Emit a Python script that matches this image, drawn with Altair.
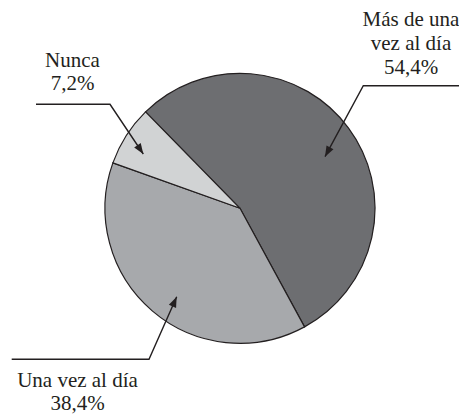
import math
import altair as alt
import pandas as pd

# Slice data
categories = ["Más de una vez al día", "Una vez al día", "Nunca"]
percents = [54.4, 38.4, 7.2]
colors = ["#6d6e71", "#a7a9ac", "#d1d3d4"]

# Label texts (one row per text line), chart units
label_lines = ["Más de una", "vez al día", "54,4%", "Nunca", "7,2%", "Una vez al día", "38,4%"]
label_x = [403, 403, 403, 64.5, 64.5, 69.5, 69.5]
label_y = [18, 41.5, 66, 58.7, 82, 378.7, 402]

# Leader lines: start, bend, tip (chart units)
leader_ids = ["mas", "nunca", "una"]
leader_start_x = [451, 28, 3.7]
leader_start_y = [77.7, 96.3, 351.3]
leader_bend_x = [355.3, 102, 141]
leader_bend_y = [77.7, 96.3, 351.3]
leader_tip_x = [317, 135.3, 168.7]
leader_tip_y = [148.7, 146, 288.7]

W, H = 451, 406
CX, CY, R = 232, 200.3, 135
start_deg = -44.4
start = math.radians(start_deg)

pie_df = pd.DataFrame({"cat": categories, "pct": percents, "ord": [0, 1, 2]})

lines_rows = []
for i, lid in enumerate(leader_ids):
    lines_rows.append({"id": lid, "k": 0, "x": leader_start_x[i], "y": leader_start_y[i]})
    lines_rows.append({"id": lid, "k": 1, "x": leader_bend_x[i], "y": leader_bend_y[i]})
    lines_rows.append({"id": lid, "k": 2, "x": leader_tip_x[i], "y": leader_tip_y[i]})
lines_df = pd.DataFrame(lines_rows)

heads_rows = []
for i, lid in enumerate(leader_ids):
    dx = leader_tip_x[i] - leader_bend_x[i]
    dy = leader_tip_y[i] - leader_bend_y[i]
    ang = math.degrees(math.atan2(dx, -dy)) % 360
    heads_rows.append({"id": lid, "x": leader_tip_x[i], "y": leader_tip_y[i], "ang": ang})
heads_df = pd.DataFrame(heads_rows)

labels_df = pd.DataFrame({"t": label_lines, "x": label_x, "y": label_y})

xs = alt.Scale(domain=[0, W], nice=False, zero=False)
ys = alt.Scale(domain=[H, 0], nice=False, zero=False)

pie = alt.Chart(pie_df).mark_arc(radius=R, stroke="#231f20", strokeWidth=1.2).encode(
    theta=alt.Theta("pct:Q", stack=True, scale=alt.Scale(range=[start, start + 2 * math.pi])),
    order=alt.Order("ord:Q"),
    color=alt.Color("cat:N", scale=alt.Scale(domain=categories, range=colors), legend=None),
    x=alt.value(CX),
    y=alt.value(CY),
)

lines = alt.Chart(lines_df).mark_line(color="#231f20", strokeWidth=1.4).encode(
    x=alt.X("x:Q", scale=xs, axis=None),
    y=alt.Y("y:Q", scale=ys, axis=None),
    detail="id:N",
    order="k:Q",
)

heads = alt.Chart(heads_df).mark_point(
    shape="M0,0L-0.75,2L0.75,2Z", filled=True, color="#231f20", opacity=1, size=110
).encode(
    x=alt.X("x:Q", scale=xs, axis=None),
    y=alt.Y("y:Q", scale=ys, axis=None),
    angle=alt.Angle("ang:Q", scale=None),
)

labels = alt.Chart(labels_df).mark_text(
    font="Times New Roman, Liberation Serif, DejaVu Serif, serif", fontSize=21,
    align="center", baseline="alphabetic", color="#231f20"
).encode(
    x=alt.X("x:Q", scale=xs, axis=None),
    y=alt.Y("y:Q", scale=ys, axis=None),
    text="t:N",
)

chart = alt.layer(pie, lines, heads, labels).properties(
    width=W, height=H, padding=0, autosize=alt.AutoSizeParams(type="none")
).configure_view(stroke=None)

chart.save("out.html", embed_options={"renderer": "svg", "actions": False})
